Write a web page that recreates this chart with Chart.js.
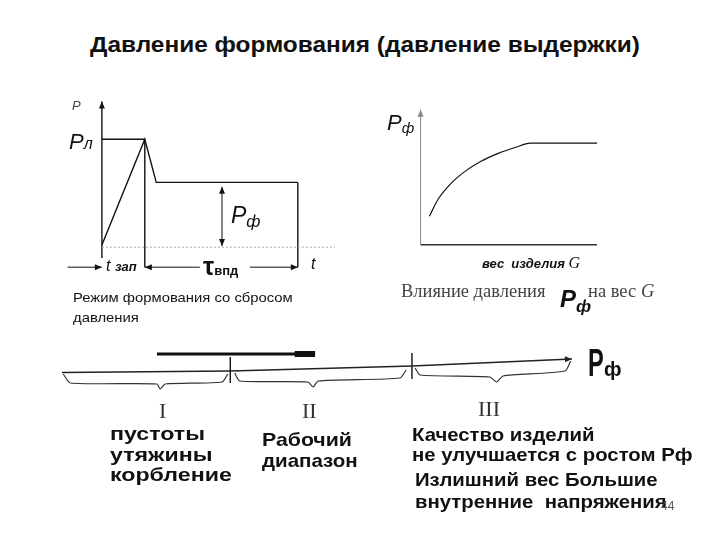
<!DOCTYPE html>
<html>
<head>
<meta charset="utf-8">
<script src="https://cdn.jsdelivr.net/npm/chart.js@4"></script>
<style>
    body { margin: 0; background: #fff; width: 720px; height: 540px; position: relative; overflow: hidden;
           font-family: Arial, "Liberation Sans", sans-serif; color: #111; }
    canvas { position: absolute; }
    .t { position: absolute; white-space: nowrap; line-height: 1; transform-origin: left top; }
    .it { font-style: italic; }
    .b { font-weight: bold; }
    .serif { font-family: "Liberation Serif", "DejaVu Serif", serif; }
</style>
</head>
<body>

<div class="t b" style="left:90px;top:34px;font-size:22px;transform:scaleX(1.11);">Давление формования (давление выдержки)</div>

<canvas id="leftChart" width="286" height="189" style="left:59px;top:96px;"></canvas>
<canvas id="rightChart" width="240" height="160" style="left:380px;top:100px;"></canvas>
<canvas id="zoneChart" width="560" height="60" style="left:40px;top:340px;"></canvas>

<!-- left chart labels -->
<div class="t it" style="left:72px;top:99px;font-size:13px;color:#444;">P</div>
<div class="t it" style="left:69px;top:131px;font-size:22px;">P<span style="font-size:16px;">л</span></div>
<div class="t it" style="left:231px;top:204px;font-size:23px;">P<span style="font-size:17px;position:relative;top:4px;">ф</span></div>
<div class="t it" style="left:311px;top:256px;font-size:16px;">t</div>
<div class="t" style="left:106px;top:258px;"><span class="it" style="font-size:16px;">t</span> <span class="it b" style="font-size:13px;">зап</span></div>
<div class="t b" style="left:203px;top:254px;"><span style="font-size:25px;">τ</span><span style="font-size:13px;">впд</span></div>
<div class="t" style="left:73px;top:291px;font-size:13px;transform:scaleX(1.14);">Режим формования со сбросом</div>
<div class="t" style="left:73px;top:311px;font-size:13px;transform:scaleX(1.14);">давления</div>

<!-- right chart labels -->
<div class="t it" style="left:387px;top:112px;font-size:22px;">P<span style="font-size:15px;position:relative;top:3px;">ф</span></div>
<div class="t it b" style="left:482px;top:255px;font-size:13px;">вес&nbsp; изделия <span class="serif" style="font-weight:normal;font-size:16px;">G</span></div>
<div class="t serif" style="left:401px;top:282px;font-size:18.5px;color:#444;">Влияние давления</div>
<div class="t it b" style="left:560px;top:287px;font-size:24px;">P<span style="font-size:17px;position:relative;top:5px;">ф</span></div>
<div class="t serif" style="left:588px;top:282px;font-size:18.5px;color:#444;">на вес <i>G</i></div>

<!-- zone labels -->
<div class="t b" style="left:588px;top:344px;"><span style="display:inline-block;font-size:38px;transform:scaleX(0.62);transform-origin:left;width:16px;">P</span><span style="font-size:20px;">ф</span></div>
<div class="t serif" style="left:159px;top:400px;font-size:22px;color:#333;">I</div>
<div class="t serif" style="left:302px;top:400px;font-size:22px;color:#333;">II</div>
<div class="t serif" style="left:478px;top:398px;font-size:22px;color:#333;">III</div>

<div class="t b" style="left:110px;top:424px;font-size:19px;transform:scaleX(1.22);">пустоты</div>
<div class="t b" style="left:110px;top:445px;font-size:19px;transform:scaleX(1.22);">утяжины</div>
<div class="t b" style="left:110px;top:465px;font-size:19px;transform:scaleX(1.22);">корбление</div>
<div class="t b" style="left:262px;top:430px;font-size:19px;transform:scaleX(1.12);">Рабочий</div>
<div class="t b" style="left:262px;top:451px;font-size:19px;transform:scaleX(1.08);">диапазон</div>
<div class="t b" style="left:412px;top:425px;font-size:19px;transform:scaleX(1.07);">Качество изделий</div>
<div class="t b" style="left:412px;top:445px;font-size:19px;transform:scaleX(1.07);">не улучшается с ростом Рф</div>
<div class="t b" style="left:415px;top:470px;font-size:19px;transform:scaleX(1.07);">Излишний вес Большие</div>
<div class="t b" style="left:415px;top:492px;font-size:19px;transform:scaleX(1.07);">внутренние&nbsp; напряжения</div>
<div class="t" style="left:661px;top:500px;font-size:12px;color:#555;">44</div>

<script>
// pressure profile (left), time units / pressure units
const tProfile = [0, 3, 3.8, 13.7];
const pProfile = [0.2, 10, 6, 6];
const pLevel = 10;        // Pл
const pForm = 6;          // Pф
const tPeak = 3;
const tEnd = 13.7;
const tMarkLow = -1.85;   // level of the time arrows

// Pф vs product weight G (right)
const gCurve = [0.5, 1.0, 1.7, 2.5, 3.4, 4.4, 5.4, 6.2, 10];
const pfCurve = [2.8, 4.5, 6.0, 7.2, 8.2, 9.0, 9.6, 10, 10];

// Pф axis split into zones I, II, III (bottom)
const axisX = [0, 2.64, 5.49, 8];
const axisY = [0, 0.15, 0.65, 1.35];
const zoneTicks = [2.64, 5.49];
const zoneTickTop = [1.55, 1.95];
const zoneTickBottom = [-1.05, -0.65];
const workRange = [1.49, 3.97];
const braceIX = [0.02, 0.13, 1.49, 1.54, 1.62, 2.51, 2.6];
const braceIY = [-0.15, -1.05, -1.15, -1.65, -1.15, -0.95, -0.15];
const braceIIX = [2.71, 2.79, 3.86, 3.94, 4.02, 5.3, 5.4];
const braceIIY = [-0.05, -0.85, -0.95, -1.45, -0.85, -0.55, 0.25];
const braceIIIX = [5.54, 5.62, 6.71, 6.82, 6.92, 7.89, 7.98];
const braceIIIY = [0.45, -0.25, -0.45, -0.95, -0.35, 0.15, 1.15];

function line(xs, ys, extra) {
    return Object.assign({
        data: xs.map((x, i) => ({ x: x, y: ys[i] })),
        showLine: true,
        borderColor: '#111',
        borderWidth: 1.4,
        pointRadius: 0,
        fill: false
    }, extra || {});
}

// draws arrow heads at the ends of datasets that ask for it
const arrowHeads = {
    id: 'arrowHeads',
    afterDatasetsDraw(chart) {
        const ctx = chart.ctx;
        chart.data.datasets.forEach((ds, i) => {
            if (!ds.arrow) return;
            const pts = chart.getDatasetMeta(i).data;
            const ends = [];
            if (ds.arrow === 'end' || ds.arrow === 'both') ends.push([pts[pts.length - 2], pts[pts.length - 1]]);
            if (ds.arrow === 'start' || ds.arrow === 'both') ends.push([pts[1], pts[0]]);
            ends.forEach(([a, b]) => {
                const ang = Math.atan2(b.y - a.y, b.x - a.x);
                ctx.save();
                ctx.translate(b.x, b.y);
                ctx.rotate(ang);
                ctx.beginPath();
                ctx.moveTo(0, 0);
                ctx.lineTo(-7, -3);
                ctx.lineTo(-7, 3);
                ctx.closePath();
                ctx.fillStyle = ds.borderColor;
                ctx.fill();
                ctx.restore();
            });
        });
    }
};

function opts(xMin, xMax, yMin, yMax) {
    return {
        responsive: false,
        animation: false,
        layout: { padding: 0 },
        plugins: { legend: { display: false }, tooltip: { enabled: false } },
        scales: {
            x: { type: 'linear', display: false, min: xMin, max: xMax },
            y: { type: 'linear', display: false, min: yMin, max: yMax }
        }
    };
}

new Chart(document.getElementById('leftChart'), {
    type: 'scatter',
    data: {
        datasets: [
            line([0, 16.3], [0, 0], { borderColor: '#aaa', borderWidth: 1, borderDash: [2, 2] }),
            line([0, 0], [-1.0, 13.5], { arrow: 'end' }),
            line([0, tPeak], [pLevel, pLevel]),
            line(tProfile, pProfile),
            line([tPeak, tPeak], [pLevel, tMarkLow]),
            line([tEnd, tEnd], [pForm, tMarkLow]),
            line([-2.4, 0], [tMarkLow, tMarkLow], { arrow: 'end', borderWidth: 1 }),
            line([6.85, tPeak], [tMarkLow, tMarkLow], { arrow: 'end', borderWidth: 1 }),
            line([10.35, tEnd], [tMarkLow, tMarkLow], { arrow: 'end', borderWidth: 1 }),
            line([8.4, 8.4], [0.1, 5.6], { arrow: 'both', borderWidth: 1 })
        ]
    },
    options: opts(-3, 17, -3.5, 14),
    plugins: [arrowHeads]
});

new Chart(document.getElementById('rightChart'), {
    type: 'scatter',
    data: {
        datasets: [
            line([0, 0], [0, 13.3], { arrow: 'end', borderColor: '#888', borderWidth: 1 }),
            line([0, 10], [0, 0], { borderColor: '#333', borderWidth: 1.5 }),
            line(gCurve, pfCurve, { cubicInterpolationMode: 'monotone', borderWidth: 1.2 })
        ]
    },
    options: opts(-2.3, 11.3, -1.5, 14.25),
    plugins: [arrowHeads]
});

new Chart(document.getElementById('zoneChart'), {
    type: 'scatter',
    data: {
        datasets: [
            line(axisX, axisY, { arrow: 'end', borderColor: '#222', borderWidth: 1.3 }),
            line([zoneTicks[0], zoneTicks[0]], [zoneTickTop[0], zoneTickBottom[0]]),
            line([zoneTicks[1], zoneTicks[1]], [zoneTickTop[1], zoneTickBottom[1]]),
            line(workRange, [1.85, 1.85], { borderWidth: 3 }),
            line([3.65, workRange[1]], [1.85, 1.85], { borderWidth: 6 }),
            line(braceIX, braceIY, { borderColor: '#333', borderWidth: 1.2, tension: 0.2 }),
            line(braceIIX, braceIIY, { borderColor: '#333', borderWidth: 1.2, tension: 0.2 }),
            line(braceIIIX, braceIIIY, { borderColor: '#333', borderWidth: 1.2, tension: 0.2 })
        ]
    },
    options: opts(-0.345, 8.44, -2.75, 3.25),
    plugins: [arrowHeads]
});
</script>
</body>
</html>
